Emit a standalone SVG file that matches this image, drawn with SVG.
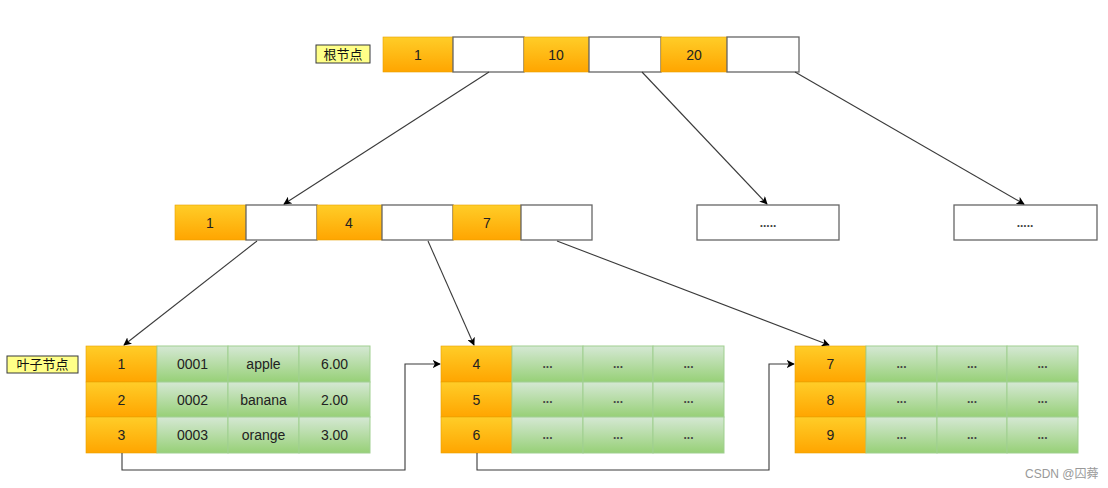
<svg xmlns="http://www.w3.org/2000/svg" width="1108" height="488" viewBox="0 0 1108 488">
<defs>
<linearGradient id="og" x1="0" y1="0" x2="0" y2="1"><stop offset="0" stop-color="#ffcd28"/><stop offset="1" stop-color="#ffa500"/></linearGradient>
<linearGradient id="gg" x1="0" y1="0" x2="0" y2="1"><stop offset="0" stop-color="#d5e8d4"/><stop offset="1" stop-color="#97d077"/></linearGradient>
<marker id="ah" viewBox="0 0 10 10" refX="9" refY="5" markerWidth="8" markerHeight="8" markerUnits="userSpaceOnUse" orient="auto"><path d="M0,0 L10,5 L0,10 L2.5,5 z" fill="#000"/></marker>
<style>
.o{fill:url(#og);stroke:#e8a000;stroke-width:0.6}
.w{fill:#fff;stroke:#666;stroke-width:1.3}
.g{fill:url(#gg);stroke:#9fcf8f;stroke-width:1}
.lbl{fill:#ffff88;stroke:#36393d;stroke-width:1}
.t{font-family:"Liberation Sans",Arial,sans-serif;font-size:14px;fill:#222;text-anchor:middle;dominant-baseline:central}
.d{font-family:"Liberation Sans",Arial,sans-serif;font-size:12px;font-weight:bold;fill:#444;text-anchor:middle}
.c{font-family:"Liberation Sans","Noto Sans CJK SC",sans-serif;font-size:13px;fill:#111;text-anchor:middle;dominant-baseline:central}
.ln{fill:none;stroke:#3a3a3a;stroke-width:1.1}
.wm{font-family:"Liberation Sans","Noto Sans CJK SC",sans-serif;font-size:12px;fill:#999}
</style>
</defs>
<rect width="1108" height="488" fill="#fff"/>

<g id="label-root"><rect class="lbl" x="316" y="45" width="54" height="18"/><text class="c" x="343" y="54">根节点</text></g>
<g id="root">
<rect class="o" x="383" y="37" width="70" height="35"/><text class="t" x="418" y="54.5">1</text>
<rect class="w" x="453" y="37" width="71" height="35"/>
<rect class="o" x="524" y="37" width="65" height="35"/><text class="t" x="556" y="54.5">10</text>
<rect class="w" x="589" y="37" width="72" height="35"/>
<rect class="o" x="661" y="37" width="66" height="35"/><text class="t" x="694" y="54.5">20</text>
<rect class="w" x="727" y="37" width="72" height="35"/>
</g>

<g id="mid">
<rect class="o" x="175" y="205" width="71" height="35"/><text class="t" x="210" y="222.5">1</text>
<rect class="w" x="246" y="205" width="71" height="35"/>
<rect class="o" x="317" y="205" width="65" height="35"/><text class="t" x="349" y="222.5">4</text>
<rect class="w" x="382" y="205" width="71" height="35"/>
<rect class="o" x="453" y="205" width="68" height="35"/><text class="t" x="487" y="222.5">7</text>
<rect class="w" x="521" y="205" width="71" height="35"/>
</g>
<g id="mid2"><rect class="w" x="697" y="205" width="142" height="35"/><text class="d" x="768" y="227">.....</text></g>
<g id="mid3"><rect class="w" x="954" y="205" width="143" height="35"/><text class="d" x="1025" y="227">.....</text></g>

<g id="label-leaf"><rect class="lbl" x="7" y="356" width="71" height="17"/><text class="c" x="42.5" y="364.5">叶子节点</text></g>

<g id="leaf1">
<rect class="o" x="86" y="346" width="71" height="36"/><text class="t" x="121.5" y="364">1</text>
<rect class="o" x="86" y="382" width="71" height="35"/><text class="t" x="121.5" y="399.5">2</text>
<rect class="o" x="86" y="417" width="71" height="36"/><text class="t" x="121.5" y="435">3</text>
<rect class="g" x="157" y="346" width="71" height="36"/><text class="t" x="192.5" y="364">0001</text>
<rect class="g" x="228" y="346" width="71" height="36"/><text class="t" x="263.5" y="364">apple</text>
<rect class="g" x="299" y="346" width="71" height="36"/><text class="t" x="334.5" y="364">6.00</text>
<rect class="g" x="157" y="382" width="71" height="35"/><text class="t" x="192.5" y="399.5">0002</text>
<rect class="g" x="228" y="382" width="71" height="35"/><text class="t" x="263.5" y="399.5">banana</text>
<rect class="g" x="299" y="382" width="71" height="35"/><text class="t" x="334.5" y="399.5">2.00</text>
<rect class="g" x="157" y="417" width="71" height="36"/><text class="t" x="192.5" y="435">0003</text>
<rect class="g" x="228" y="417" width="71" height="36"/><text class="t" x="263.5" y="435">orange</text>
<rect class="g" x="299" y="417" width="71" height="36"/><text class="t" x="334.5" y="435">3.00</text>
</g>

<g id="leaf2">
<rect class="o" x="441" y="346" width="71" height="36"/><text class="t" x="476.5" y="364">4</text>
<rect class="o" x="441" y="382" width="71" height="35"/><text class="t" x="476.5" y="399.5">5</text>
<rect class="o" x="441" y="417" width="71" height="36"/><text class="t" x="476.5" y="435">6</text>
<rect class="g" x="512" y="346" width="71" height="36"/><text class="d" x="547.5" y="368">...</text>
<rect class="g" x="583" y="346" width="70" height="36"/><text class="d" x="618" y="368">...</text>
<rect class="g" x="653" y="346" width="71" height="36"/><text class="d" x="688.5" y="368">...</text>
<rect class="g" x="512" y="382" width="71" height="35"/><text class="d" x="547.5" y="403">...</text>
<rect class="g" x="583" y="382" width="70" height="35"/><text class="d" x="618" y="403">...</text>
<rect class="g" x="653" y="382" width="71" height="35"/><text class="d" x="688.5" y="403">...</text>
<rect class="g" x="512" y="417" width="71" height="36"/><text class="d" x="547.5" y="439">...</text>
<rect class="g" x="583" y="417" width="70" height="36"/><text class="d" x="618" y="439">...</text>
<rect class="g" x="653" y="417" width="71" height="36"/><text class="d" x="688.5" y="439">...</text>
</g>

<g id="leaf3">
<rect class="o" x="795" y="346" width="71" height="36"/><text class="t" x="830.5" y="364">7</text>
<rect class="o" x="795" y="382" width="71" height="35"/><text class="t" x="830.5" y="399.5">8</text>
<rect class="o" x="795" y="417" width="71" height="36"/><text class="t" x="830.5" y="435">9</text>
<rect class="g" x="866" y="346" width="71" height="36"/><text class="d" x="901.5" y="368">...</text>
<rect class="g" x="937" y="346" width="70" height="36"/><text class="d" x="972" y="368">...</text>
<rect class="g" x="1007" y="346" width="71" height="36"/><text class="d" x="1042.5" y="368">...</text>
<rect class="g" x="866" y="382" width="71" height="35"/><text class="d" x="901.5" y="403">...</text>
<rect class="g" x="937" y="382" width="70" height="35"/><text class="d" x="972" y="403">...</text>
<rect class="g" x="1007" y="382" width="71" height="35"/><text class="d" x="1042.5" y="403">...</text>
<rect class="g" x="866" y="417" width="71" height="36"/><text class="d" x="901.5" y="439">...</text>
<rect class="g" x="937" y="417" width="70" height="36"/><text class="d" x="972" y="439">...</text>
<rect class="g" x="1007" y="417" width="71" height="36"/><text class="d" x="1042.5" y="439">...</text>
</g>

<g id="connectors">
<line class="ln" x1="489" y1="72" x2="284" y2="204" marker-end="url(#ah)"/>
<line class="ln" x1="642" y1="72" x2="767" y2="204" marker-end="url(#ah)"/>
<line class="ln" x1="795" y1="72" x2="1024" y2="204" marker-end="url(#ah)"/>
<line class="ln" x1="257" y1="241" x2="124" y2="345" marker-end="url(#ah)"/>
<line class="ln" x1="428" y1="241" x2="474" y2="345" marker-end="url(#ah)"/>
<line class="ln" x1="557" y1="241" x2="829" y2="345" marker-end="url(#ah)"/>
<polyline class="ln" points="122,453 122,470 405,470 405,364 440,364" marker-end="url(#ah)"/>
<polyline class="ln" points="477,453 477,470 769,470 769,364 794,364" marker-end="url(#ah)"/>
</g>

<text class="wm" x="1025" y="478">CSDN @囚蕣</text>
</svg>
